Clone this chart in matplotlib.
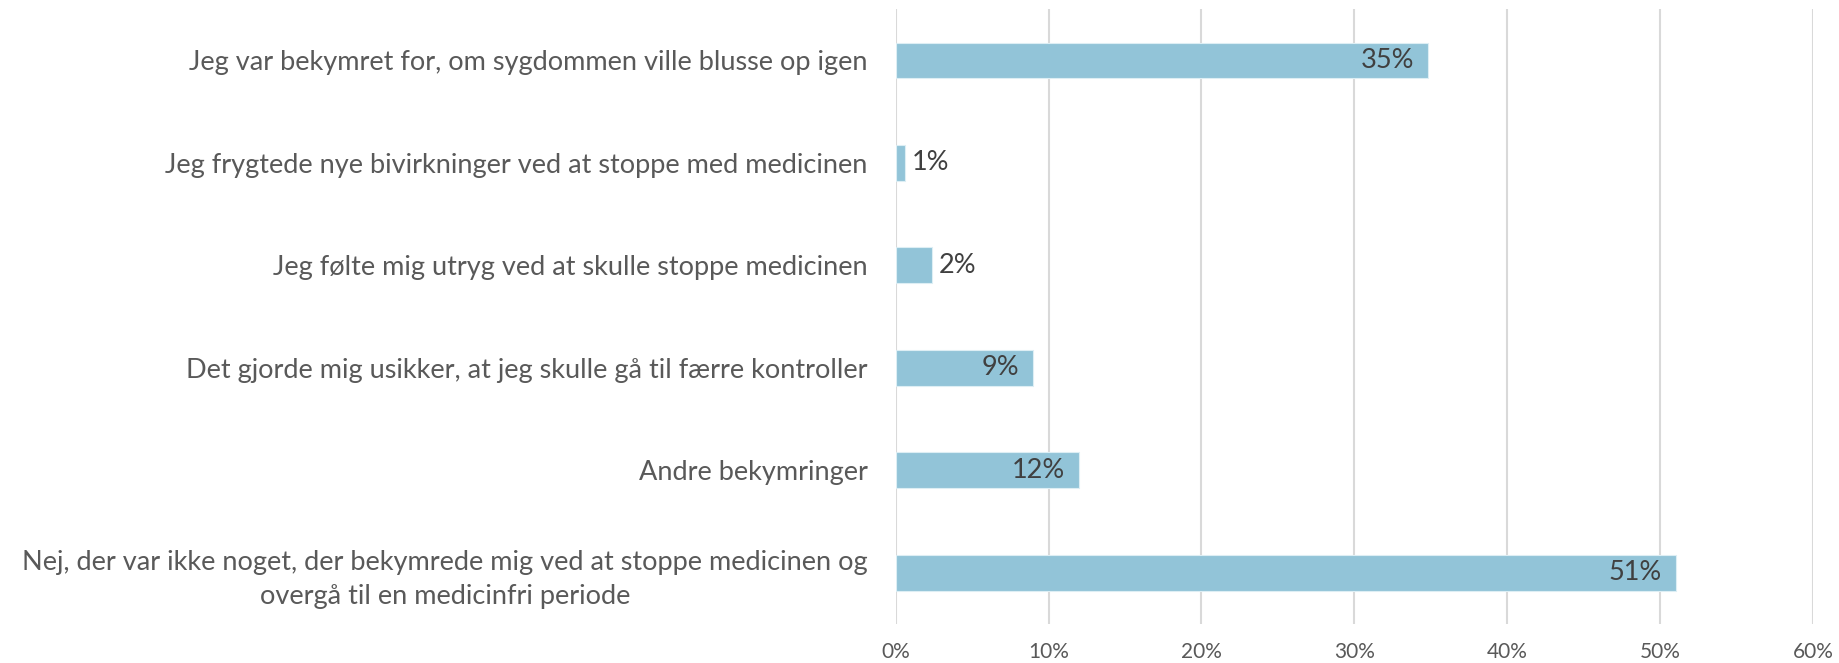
import matplotlib.pyplot as plt
from matplotlib.ticker import PercentFormatter
import numpy as np

# data (percent)
categories = [
    'Jeg var bekymret for, om sygdommen ville blusse op igen',
    'Jeg frygtede nye bivirkninger ved at stoppe med medicinen',
    'Jeg følte mig utryg ved at skulle stoppe medicinen',
    'Det gjorde mig usikker, at jeg skulle gå til færre kontroller',
    'Andre bekymringer',
    'Nej, der var ikke noget, der bekymrede mig ved at stoppe medicinen og\novergå til en medicinfri periode',
]
values = [34.8, 0.6, 2.4, 9.0, 12.0, 51.0]
labels = ['35%', '1%', '2%', '9%', '12%', '51%']
xticks = [0, 10, 20, 30, 40, 50, 60]

plt.rcParams['font.family'] = ['Lato', 'DejaVu Sans']

fig = plt.figure(figsize=(18.39, 6.63), dpi=100)
ax = fig.add_axes([0.487, 0.059, 0.499, 0.927])

y = np.arange(len(categories))
bars = ax.barh(y, values, height=0.35, color='#92C4D8', edgecolor='#DDEEF4', linewidth=0.8, zorder=3)

for b, v, lab in zip(bars, values, labels):
    yc = b.get_y() + b.get_height() / 2
    if v > 5:
        ax.annotate(lab, (v, yc), xytext=(-10, 0), textcoords='offset points',
                    ha='right', va='center', fontsize=19.5, color='#404040', zorder=4)
    else:
        ax.annotate(lab, (v, yc), xytext=(5, 0), textcoords='offset points',
                    ha='left', va='center', fontsize=19.5, color='#404040', zorder=4)

ax.set_ylim(len(categories) - 0.5, -0.5)
ax.set_xlim(0, 60)
ax.set_xticks(xticks)
ax.xaxis.set_major_formatter(PercentFormatter(decimals=0))
ax.set_yticks(y)
ax.set_yticklabels(categories, fontsize=19.5, color='#595959',
                   multialignment='center', linespacing=1.45)

ax.grid(axis='x', color='#D9D9D9', linewidth=1.5, zorder=0)
for s in ax.spines.values():
    s.set_visible(False)
ax.tick_params(axis='y', length=0, pad=20)
ax.tick_params(axis='x', length=0, pad=13, labelsize=15, labelcolor='#595959')

plt.savefig('out.png', dpi=100)
